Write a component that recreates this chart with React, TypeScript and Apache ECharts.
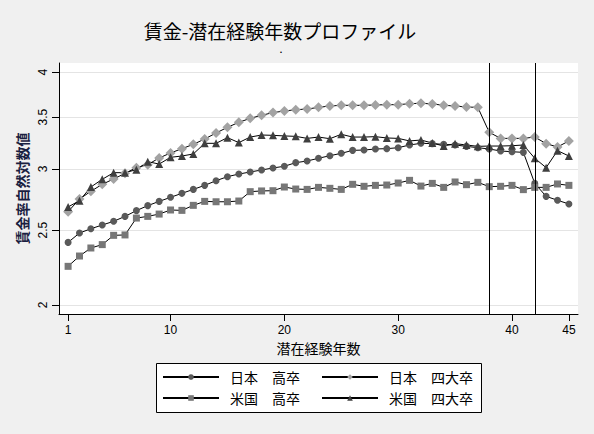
import { useEffect, useRef } from 'react'
import * as echarts from 'echarts'

// 潜在経験年数
const years = [
  1, 2, 3, 4, 5, 6, 7, 8, 9, 10, 11, 12, 13, 14, 15, 16, 17, 18, 19, 20, 21, 22, 23,
  24, 25, 26, 27, 28, 29, 30, 31, 32, 33, 34, 35, 36, 37, 38, 39, 40, 41, 42, 43, 44, 45,
]

const jpHigh = [
  2.41, 2.478, 2.51, 2.538, 2.566, 2.604, 2.649, 2.689, 2.723, 2.756, 2.789, 2.822, 2.856,
  2.896, 2.931, 2.954, 2.972, 2.99, 3.008, 3.023, 3.056, 3.071, 3.096, 3.12, 3.142, 3.17,
  3.173, 3.183, 3.186, 3.195, 3.221, 3.237, 3.234, 3.227, 3.221, 3.208, 3.195, 3.183, 3.164,
  3.157, 3.151, 2.873, 2.764, 2.732, 2.702,
]

const jpUniv = [
  2.641, 2.742, 2.806, 2.865, 2.911, 2.96, 3.011, 3.038, 3.099, 3.145, 3.186, 3.227, 3.279,
  3.338, 3.395, 3.446, 3.487, 3.519, 3.547, 3.564, 3.578, 3.585, 3.603, 3.618, 3.625, 3.625,
  3.625, 3.629, 3.632, 3.632, 3.643, 3.647, 3.64, 3.625, 3.618, 3.607, 3.603, 3.345, 3.285,
  3.285, 3.285, 3.298, 3.234, 3.202, 3.26,
]

const usHigh = [
  2.244, 2.314, 2.37, 2.394, 2.461, 2.464, 2.591, 2.604, 2.622, 2.654, 2.651, 2.691, 2.723,
  2.72, 2.72, 2.726, 2.803, 2.809, 2.811, 2.842, 2.825, 2.822, 2.839, 2.831, 2.822, 2.865,
  2.848, 2.856, 2.859, 2.876, 2.899, 2.85, 2.873, 2.839, 2.885, 2.862, 2.882, 2.845, 2.848,
  2.856, 2.82, 2.839, 2.839, 2.868, 2.856,
]

const usUniv = [
  2.678, 2.729, 2.842, 2.908, 2.966, 2.966, 2.993, 3.065, 3.043, 3.105, 3.117, 3.136, 3.237,
  3.237, 3.292, 3.244, 3.298, 3.318, 3.315, 3.309, 3.305, 3.285, 3.298, 3.282, 3.325, 3.298,
  3.298, 3.302, 3.289, 3.285, 3.26, 3.269, 3.24, 3.211, 3.234, 3.221, 3.208, 3.211, 3.211,
  3.214, 3.221, 3.096, 3.011, 3.167, 3.117,
]

const yTicks = [2, 2.5, 3, 3.5, 4]
const xTicks = [1, 10, 20, 30, 40, 45]
const refLines = [38, 42]

const names = ['日本　高卒', '日本　四大卒', '米国　高卒', '米国　四大卒']

const font = '"Noto Sans CJK JP", "Liberation Sans", sans-serif'
const numFont = '"Liberation Sans", Arial, sans-serif'

// y軸は対数目盛り
const ln = (v: number) => Math.log(v)

function toPoints(values: number[]) {
  return values.map((v, i) => [years[i], ln(v)])
}

export default function App() {
  const chartRef = useRef<HTMLDivElement>(null)

  useEffect(() => {
    if (!chartRef.current) return
    const chart = echarts.init(chartRef.current, null, { renderer: 'svg' })

    const mk = (name: string, values: number[], symbol: string, size: number, color: string, extra = {}) => ({
      name,
      type: 'line',
      data: toPoints(values),
      symbol,
      symbolSize: size,
      showSymbol: true,
      itemStyle: { color },
      lineStyle: { color: '#000', width: 1 },
      emphasis: { disabled: true },
      ...extra,
    })

    const legendBase = {
      orient: 'vertical',
      top: 370,
      padding: 0,
      itemGap: 7,
      itemWidth: 56,
      itemHeight: 7,
      textStyle: { fontSize: 14, color: '#000', fontFamily: font, padding: [0, 0, 0, 6] },
      selectedMode: false,
    }

    chart.setOption({
      animation: false,
      backgroundColor: '#f0f0f0',
      textStyle: { fontFamily: font },
      title: [
        {
          text: '賃金-潜在経験年数プロファイル',
          left: 280,
          top: 21,
          textAlign: 'center',
          padding: 0,
          textStyle: { fontSize: 19, lineHeight: 19, fontWeight: 'normal', color: '#000', fontFamily: font },
        },
        {
          text: '.',
          left: 281,
          top: 45,
          textAlign: 'center',
          padding: 0,
          textStyle: { fontSize: 9, lineHeight: 9, fontWeight: 'bold', color: '#000', fontFamily: numFont },
        },
      ],
      grid: {
        left: 59,
        right: 16,
        top: 63,
        bottom: 120,
        show: true,
        backgroundColor: '#fff',
        borderWidth: 0,
      },
      xAxis: {
        type: 'value',
        min: 0.2,
        max: 45.8,
        name: '潜在経験年数',
        nameLocation: 'middle',
        nameGap: 27,
        nameTextStyle: { fontSize: 14, color: '#000', fontFamily: font },
        axisLine: { lineStyle: { color: '#000', width: 1 } },
        axisTick: { show: true, length: 7, customValues: xTicks, lineStyle: { color: '#000' } },
        axisLabel: {
          customValues: xTicks,
          fontSize: 12,
          color: '#000',
          margin: 10,
          fontFamily: numFont,
        },
        splitLine: { show: false },
      },
      yAxis: {
        type: 'value',
        min: ln(1.947),
        max: ln(4.112),
        name: '賃金率自然対数値',
        nameLocation: 'middle',
        nameRotate: 90,
        nameGap: 26,
        nameTextStyle: { fontSize: 14, fontWeight: 'bold', color: '#1a2040', fontFamily: font },
        axisLine: { show: true, lineStyle: { color: '#000', width: 1 } },
        axisTick: {
          show: true,
          length: 7,
          customValues: yTicks.map(ln),
          lineStyle: { color: '#000' },
        },
        axisLabel: {
          customValues: yTicks.map(ln),
          rotate: 90,
          fontSize: 12,
          color: '#000',
          margin: 10,
          fontFamily: numFont,
          formatter: (v: number) => String(Math.round(Math.exp(v) * 10) / 10),
        },
        splitLine: { show: true, lineStyle: { color: '#e4e4e4', width: 1 } },
      },
      legend: [
        { ...legendBase, data: [names[0], names[2]], left: 162 },
        { ...legendBase, data: [names[1], names[3]], left: 321 },
      ],
      graphic: [
        {
          type: 'rect',
          left: 156,
          top: 363,
          z: -1,
          shape: { width: 325, height: 49 },
          style: { fill: '#fff', stroke: '#000', lineWidth: 1 },
        },
      ],
      series: [
        mk(names[0], jpHigh, 'circle', 7, '#5a5a5a'),
        mk(names[1], jpUniv, 'diamond', 10, '#a3a3a3'),
        mk(names[2], usHigh, 'rect', 7, '#777777'),
        mk(names[3], usUniv, 'triangle', 8, '#3f3f3f', {
          markLine: {
            silent: true,
            symbol: 'none',
            label: { show: false },
            lineStyle: { color: '#000', width: 1, type: 'solid' },
            data: refLines.map((x) => ({ xAxis: x })),
          },
        }),
      ],
    })

    return () => {
      chart.dispose()
    }
  }, [])

  return (
    <div
      ref={chartRef}
      style={{ position: 'fixed', left: 0, top: 0, width: 594, height: 434 }}
    />
  )
}
